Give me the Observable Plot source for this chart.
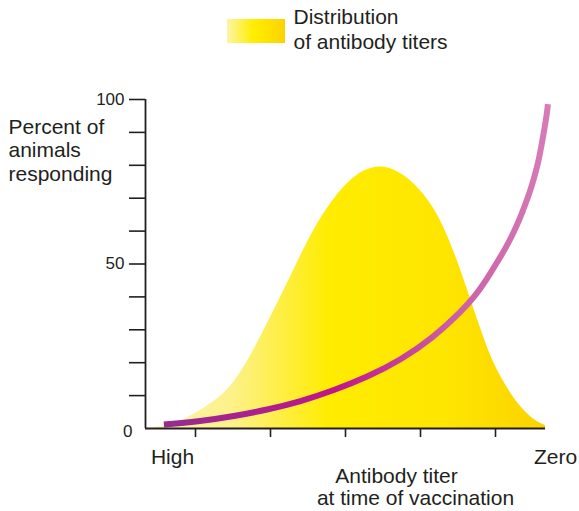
<!DOCTYPE html>
<html>
<head>
<meta charset="utf-8">
<script src="https://cdn.jsdelivr.net/npm/d3@7"></script>
<script src="https://cdn.jsdelivr.net/npm/@observablehq/plot@0.6"></script>
<style>
  html, body { margin: 0; padding: 0; background: #fff; }
</style>
</head>
<body>
<div id="chart"></div>
<script>
// Distribution of antibody titers (yellow area)
const distX = [2, 6.25, 9.6, 17.9, 22.1, 26.25, 30.4, 34.6, 38.75, 42.5, 46.5, 50.5, 54.5, 59.5, 65.5, 69.5, 73.75, 77.9, 80.8, 83.75, 86.25, 88.75, 92.9, 97.1, 100];
const distY = [0.3, 0.9, 2.4, 8.5, 13.6, 21.7, 31.8, 41.9, 52.5, 61.5, 69, 74.8, 78.6, 80.3, 76.6, 71.5, 64, 51.5, 41, 30.4, 22, 15.6, 7.5, 2.4, 0.9];

// Percent of animals responding (purple curve)
const respX = [4.6, 13.75, 22.1, 30.4, 38.75, 47.1, 55.4, 63.75, 72.1, 78.75, 82.5, 85.4, 87.9, 90.4, 92.5, 94.2, 95.8, 97.1, 98.2, 99, 99.75, 100.4, 100.6];
const respY = [1.2, 2.2, 3.7, 5.7, 8.2, 11.6, 15.6, 20.7, 27.8, 35.3, 40.4, 45.5, 50.5, 55.6, 60.7, 65.7, 70.8, 75.9, 80.9, 86.0, 91.1, 96.1, 98.6];

// Axes
const yTicks = [10, 20, 30, 40, 50, 60, 70, 80, 90, 100];
const yLabelled = [50, 100];
const xTicks = [12.5, 31.25, 50, 68.75, 87.5];
const endLabels = ["High", "Zero"];
const endLabelX = [6.75, 102.5];

const legendLabel = "Distribution\nof antibody titers";
const yTitle = "Percent of\nanimals\nresponding";
const xTitle1 = "Antibody titer";
const xTitle2 = "at time of vaccination";

const dist = distX.map((x, i) => ({x, y: distY[i]}));
const resp = respX.map((x, i) => ({x, y: respY[i]}));
const ends = endLabels.map((t, i) => ({t, x: endLabelX[i]}));

const ink = "#231f20";
const font = "'Liberation Sans', Arial, Helvetica, sans-serif";

const svg = Plot.plot({
  width: 579,
  height: 511,
  marginLeft: 145,
  marginRight: 34,
  marginTop: 99,
  marginBottom: 83,
  x: {domain: [0, 100]},
  y: {domain: [0, 100]},
  style: {fontFamily: font, background: "#fff", color: ink, overflow: "visible"},
  marks: [
    Plot.areaY(dist, {x: "x", y: "y", fill: "url(#distGrad)", curve: "basis"}),
    Plot.line(resp, {x: "x", y: "y", stroke: "url(#respGrad)", strokeWidth: 6, strokeLinecap: "butt", curve: "basis"}),
    Plot.ruleX([0], {y1: 0, y2: 100, stroke: ink, strokeWidth: 1.8}),
    Plot.ruleY([0], {x1: 0, x2: 100, stroke: ink, strokeWidth: 1.8}),
    Plot.axisY({ticks: yTicks, tickSize: 16, tickPadding: 5, strokeWidth: 1.6,
      tickFormat: d => yLabelled.includes(d) ? String(d) : "", fontSize: 17, label: null}),
    Plot.axisY({ticks: [0], tickSize: 0, tickPadding: 13, fontSize: 17, dy: 3, label: null}),
    Plot.axisX({ticks: xTicks, tickSize: 9, strokeWidth: 1.6, tickFormat: () => "", label: null}),
    Plot.text(ends, {x: "x", text: "t", frameAnchor: "bottom", lineAnchor: "middle", dy: 29, fontSize: 21, fill: ink}),
    Plot.text([xTitle1], {frameAnchor: "bottom-left", lineAnchor: "middle", dx: 251, dy: 48, fontSize: 21, textAnchor: "middle", fill: ink}),
    Plot.text([xTitle2], {frameAnchor: "bottom-left", lineAnchor: "middle", dx: 270, dy: 70, fontSize: 21, textAnchor: "middle", fill: ink}),
    Plot.text([yTitle], {frameAnchor: "top-left", lineAnchor: "middle", dx: -137, dy: 50, fontSize: 21, textAnchor: "start", lineHeight: 1.12, fill: ink}),
    Plot.text([legendLabel], {frameAnchor: "top-left", lineAnchor: "middle", dx: 148, dy: -71, fontSize: 21, textAnchor: "start", lineHeight: 1.2, fill: ink})
  ]
});

const s = d3.select(svg);
const defs = s.insert("defs", ":first-child");
function grad(id, stops) {
  const g = defs.append("linearGradient").attr("id", id)
    .attr("x1", "0%").attr("x2", "100%").attr("y1", "0%").attr("y2", "0%");
  stops.forEach(([o, c]) => g.append("stop").attr("offset", o).attr("stop-color", c));
}
grad("distGrad", [[0, "#fdf5ae"], [0.2, "#fdf18a"], [0.45, "#ffec00"], [0.75, "#fee500"], [1, "#fcd200"]]);
grad("respGrad", [[0, "#962b8f"], [0.45, "#c0168b"], [0.72, "#cc58a4"], [1, "#d67bb6"]]);
grad("legendGrad", [[0, "#fdf4a8"], [0.45, "#ffee00"], [1, "#fcd300"]]);

s.append("rect").attr("x", 227).attr("y", 19).attr("width", 58).attr("height", 24)
  .attr("fill", "url(#legendGrad)");

document.getElementById("chart").appendChild(svg);
</script>
</body>
</html>
